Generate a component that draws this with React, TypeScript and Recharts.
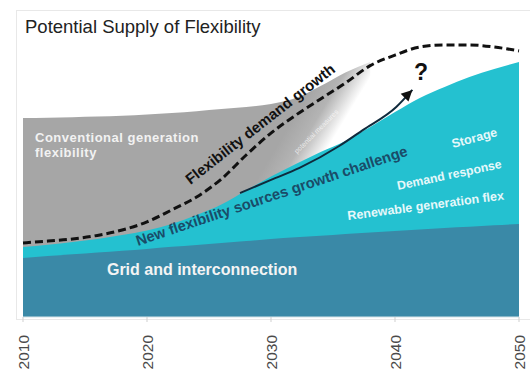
import React from 'react';
import { ComposedChart, Area, Line, XAxis, YAxis, ReferenceDot } from 'recharts';

const years = [2010, 2012, 2014, 2016, 2018, 2020, 2022, 2024, 2026, 2028, 2030, 2032, 2034, 2036, 2038, 2040, 2042, 2044, 2046, 2048, 2050];
const gridInterconnection = [19.7, 20.3, 20.9, 21.5, 22.1, 22.7, 23.4, 24.0, 24.7, 25.3, 26.0, 26.6, 27.1, 27.7, 28.2, 28.7, 29.2, 29.7, 30.1, 30.6, 31.0];
const newSourcesTop = [23.3, 24.1, 25.0, 26.0, 27.3, 28.8, 31.0, 34.0, 37.5, 42.2, 46.8, 51.0, 55.0, 58.7, 63.3, 68.3, 73.0, 76.7, 80.0, 82.7, 85.0];
const conventionalTop = [66.3, 66.4, 66.6, 66.8, 67.1, 67.5, 68.0, 68.6, 69.3, 70.0, 71.0, 73.0, 77.0, 81.5, 85.0, null, null, null, null, null, null];
const demandGrowth = [24.7, 25.3, 26.0, 27.2, 29.0, 31.7, 35.7, 40.0, 46.0, 54.0, 61.3, 67.3, 72.7, 78.0, 83.8, 87.3, 90.0, 90.7, 90.7, 90.0, 88.7];
const arrowYears = [2027.5, 2030, 2032.3, 2035.5, 2037.4, 2040.1, 2041.4];
const arrowValues = [41.3, 45.7, 49.7, 57.0, 62.3, 70.0, 75.7];
const xTicks = [2010, 2020, 2030, 2040, 2050];

const data = years.map((year, i) => ({
  year,
  grid: gridInterconnection[i],
  newSources: newSourcesTop[i],
  conventional: conventionalTop[i],
  demand: demandGrowth[i],
}));
const arrowData = arrowYears.map((year, i) => ({ year, arrow: arrowValues[i] }));

const font = '"Liberation Sans", Arial, Helvetica, sans-serif';

const YearTick = ({ x, y, payload }: any) => (
  <text
    transform={`translate(${x},${y + 11}) rotate(-90)`}
    textAnchor="end"
    dy="0.36em"
    fill="#4a4a4a"
    fontSize={15.5}
    fontFamily={font}
  >
    {payload.value}
  </text>
);

const ArrowHead = (props: any) => {
  const { cx, cy, index } = props;
  if (index !== arrowYears.length - 1) return <g key={index} />;
  return (
    <polygon
      key={index}
      points="0,0 -11,-5.5 -11,5.5"
      fill="#111"
      transform={`translate(${cx},${cy}) rotate(-45)`}
    />
  );
};

// text annotation anchored at a data point
function note(key: string, year: number, value: number, label: string, opts: any = {}) {
  const { angle = 0, size = 12, color = '#fff', weight = 'bold', anchor = 'start', opacity = 1, spacing = 0 } = opts;
  return (
    <ReferenceDot
      key={key}
      x={year}
      y={value}
      r={0}
      ifOverflow="visible"
      shape={(p: any) => (
        <text
          x={p.cx}
          y={p.cy}
          transform={angle ? `rotate(${angle}, ${p.cx}, ${p.cy})` : undefined}
          fill={color}
          fillOpacity={opacity}
          fontSize={size}
          fontWeight={weight}
          fontFamily={font}
          letterSpacing={spacing}
          textAnchor={anchor}
        >
          {label}
        </text>
      )}
    />
  );
}

export default function App() {
  return (
    <div style={{ position: 'absolute', left: 0, top: 0, width: 530, height: 371, background: '#fff' }}>
      <div
        style={{
          position: 'absolute',
          left: 16,
          top: 10,
          width: 520,
          height: 308,
          border: '1px solid #e8e8e8',
        }}
      />
      <div
        style={{
          position: 'absolute',
          left: 25,
          top: 16,
          fontFamily: font,
          fontSize: 18.5,
          color: '#222',
          whiteSpace: 'nowrap',
        }}
      >
        Potential Supply of Flexibility
      </div>
      <div style={{ position: 'absolute', left: 0, top: 0 }}>
        <ComposedChart width={530} height={371} data={data} margin={{ top: 17, right: 11, left: 23, bottom: 0 }}>
          <defs>
            <linearGradient id="convFade" gradientUnits="userSpaceOnUse" x1={300} y1={108} x2={338} y2={131}>
              <stop offset="0" stopColor="#a6a6a6" />
              <stop offset="0.45" stopColor="#b4b4b4" />
              <stop offset="1" stopColor="#ffffff" />
            </linearGradient>
          </defs>
          <XAxis
            dataKey="year"
            type="number"
            domain={[2010, 2050]}
            ticks={xTicks}
            height={54}
            tick={<YearTick />}
            tickSize={5}
            axisLine={{ stroke: '#d6e4e8' }}
            tickLine={{ stroke: '#cfcfcf' }}
            interval={0}
          />
          <YAxis hide domain={[0, 100]} />
          <Area
            dataKey="conventional"
            type="monotone"
            stroke="none"
            fill="url(#convFade)"
            fillOpacity={1}
            isAnimationActive={false}
          />
          <Area
            dataKey="newSources"
            type="monotone"
            stroke="none"
            fill="#24c1d0"
            fillOpacity={1}
            isAnimationActive={false}
          />
          <Area
            dataKey="grid"
            type="monotone"
            stroke="none"
            fill="#3a89a7"
            fillOpacity={1}
            isAnimationActive={false}
          />
          <Line
            dataKey="demand"
            type="monotone"
            stroke="#111"
            strokeWidth={3}
            strokeDasharray="8 4"
            dot={false}
            isAnimationActive={false}
          />
          <Line
            data={arrowData}
            dataKey="arrow"
            type="monotone"
            stroke="#0f2a3c"
            strokeWidth={2}
            dot={<ArrowHead />}
            isAnimationActive={false}
          />
          {note('conv', 2010.97, 58.3, 'Conventional generation', { size: 13, color: '#f2f2f2', spacing: 0.5 })}
          {note('conv2', 2010.97, 53.2, 'flexibility', { size: 13, color: '#f2f2f2', spacing: 0.5 })}
          {note('demand', 2023.5, 44.0, 'Flexibility demand growth', { angle: -38, size: 15, color: '#111' })}
          {note('potential', 2032.1, 54.3, 'potential measures', { angle: -45, size: 7, color: '#fff', opacity: 0.7, weight: 'normal' })}
          {note('newsrc', 2019.27, 23.7, 'New flexibility sources growth challenge', { angle: -18.5, size: 14.8, color: '#1a4c68' })}
          {note('storage', 2044.68, 56.3, 'Storage', { angle: -15, size: 12.5, color: '#e6f8fa' })}
          {note('dr', 2040.24, 42.3, 'Demand response', { angle: -12, size: 12.3, color: '#e6f8fa' })}
          {note('ren', 2036.21, 32.3, 'Renewable generation flex', { angle: -7.5, size: 12.5, color: '#e6f8fa' })}
          {note('grid', 2016.77, 14.0, 'Grid and interconnection', { size: 16, color: '#f4f4f4' })}
          {note('q', 2042.1, 79, '?', { size: 23, color: '#111', anchor: 'middle' })}
        </ComposedChart>
      </div>
    </div>
  );
}
